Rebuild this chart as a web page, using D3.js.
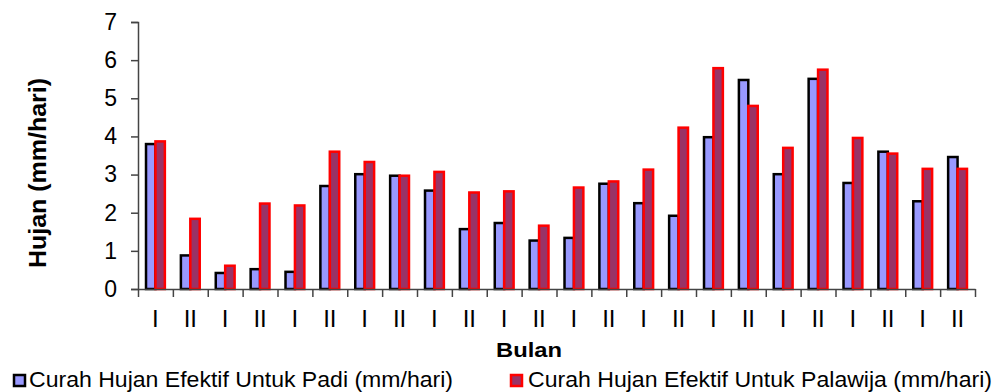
<!DOCTYPE html>
<html>
<head>
<meta charset="utf-8">
<script src="https://cdn.jsdelivr.net/npm/d3@7"></script>
<style>
  body { margin: 0; background: #fff; }
  text { font-family: Arial, "Liberation Sans", sans-serif; fill: #000; }
</style>
</head>
<body>
<div id="chart"></div>
<script>
// two half-month periods per month
const periods = ["I","II","I","II","I","II","I","II","I","II","I","II",
                 "I","II","I","II","I","II","I","II","I","II","I","II"]
const padi = [3.80, 0.88, 0.42, 0.52, 0.45, 2.70, 3.01, 2.97, 2.58, 1.57, 1.73, 1.27,
              1.34, 2.76, 2.25, 1.92, 3.98, 5.48, 3.01, 5.51, 2.78, 3.60, 2.30, 3.46]
const palawija = [3.87, 1.84, 0.61, 2.24, 2.19, 3.60, 3.33, 2.97, 3.07, 2.53, 2.56, 1.66,
                  2.66, 2.82, 3.13, 4.23, 5.79, 4.80, 3.70, 5.75, 3.96, 3.55, 3.15, 3.15]
const seriesNames = ["Curah Hujan Efektif Untuk Padi (mm/hari)",
                     "Curah Hujan Efektif Untuk Palawija (mm/hari)"]
const yTicks = [0, 1, 2, 3, 4, 5, 6, 7]

const width = 995
const height = 392
const margin = {top: 22, left: 138, right: 20, bottom: 103}

const fills = ["#9999FF", "#993366"]
const strokes = ["#000000", "#FF0000"]

const svg = d3.select("#chart").append("svg")
    .attr("width", width)
    .attr("height", height)

const x = d3.scaleBand()
    .domain(d3.range(periods.length))
    .range([margin.left, width - margin.right])
    .paddingInner(0)
    .paddingOuter(0)

const xEdge = d3.scaleLinear()
    .domain([0, periods.length])
    .range([margin.left, width - margin.right])

const x1 = d3.scaleBand()
    .domain([0, 1])
    .range([0, x.bandwidth()])
    .paddingInner(0)
    .paddingOuter(0.85)

const y = d3.scaleLinear()
    .domain([0, 7])
    .range([height - margin.bottom, margin.top])

const rows = periods.map((p, i) => ({i, values: [padi[i], palawija[i]]}))

// bars
const groups = svg.append("g").attr("class", "bars")
    .selectAll("g")
    .data(rows)
    .join("g")
    .attr("transform", d => `translate(${x(d.i)},0)`)

groups.selectAll("rect")
    .data(d => d.values.map((v, k) => ({k, v})))
    .join("rect")
    .attr("x", d => x1(d.k))
    .attr("width", x1.bandwidth())
    .attr("y", d => y(d.v))
    .attr("height", d => y(0) - y(d.v))
    .attr("fill", d => fills[d.k])
    .attr("stroke", d => strokes[d.k])
    .attr("stroke-width", 2.5)

// y axis
const yAxis = svg.append("g")
    .attr("transform", `translate(${margin.left},0)`)
    .call(d3.axisLeft(y).tickValues(yTicks).tickSize(7).tickPadding(14).tickFormat(d3.format("d")))
yAxis.select(".domain").attr("stroke", "#444").attr("stroke-width", 1.5)
yAxis.selectAll(".tick line").attr("stroke", "#444").attr("stroke-width", 1.5)
yAxis.selectAll(".tick text").style("font-size", "23px").attr("fill", "#000")

// x axis: boundary ticks
const xTicksAxis = svg.append("g")
    .attr("transform", `translate(0,${y(0)})`)
    .call(d3.axisBottom(xEdge).tickValues(d3.range(periods.length + 1)).tickSize(8).tickSizeOuter(0).tickFormat(""))
xTicksAxis.select(".domain").attr("stroke", "#444").attr("stroke-width", 1.5)
xTicksAxis.selectAll(".tick line").attr("stroke", "#444").attr("stroke-width", 1.5)

// x axis: period labels
const xLabels = svg.append("g")
    .attr("transform", `translate(0,${y(0)})`)
    .call(d3.axisBottom(x).tickSize(0).tickPadding(21).tickFormat(i => periods[i]))
xLabels.select(".domain").remove()
xLabels.selectAll(".tick text").style("font-size", "24px").attr("fill", "#000")

// axis titles
svg.append("text")
    .attr("x", 529)
    .attr("y", 357)
    .attr("text-anchor", "middle")
    .attr("textLength", 66)
    .attr("lengthAdjust", "spacingAndGlyphs")
    .style("font-size", "21px")
    .style("font-weight", "bold")
    .text("Bulan")

svg.append("text")
    .attr("transform", "translate(46,173) rotate(-90)")
    .attr("text-anchor", "middle")
    .attr("textLength", 190)
    .attr("lengthAdjust", "spacingAndGlyphs")
    .style("font-size", "24px")
    .style("font-weight", "bold")
    .text("Hujan (mm/hari)")

// legend
const legendPos = [{sx: 13, tx: 29, len: 424}, {sx: 510, tx: 528, len: 464}]
const legend = svg.append("g").attr("class", "legend")
    .selectAll("g")
    .data(seriesNames)
    .join("g")

legend.append("rect")
    .attr("x", (d, k) => legendPos[k].sx + 1)
    .attr("y", 375)
    .attr("width", 11)
    .attr("height", 11)
    .attr("fill", (d, k) => fills[k])
    .attr("stroke", (d, k) => strokes[k])
    .attr("stroke-width", 2.5)

legend.append("text")
    .attr("x", (d, k) => legendPos[k].tx)
    .attr("y", 387)
    .attr("textLength", (d, k) => legendPos[k].len)
    .attr("lengthAdjust", "spacingAndGlyphs")
    .style("font-size", "22px")
    .text(d => d)
</script>
</body>
</html>
